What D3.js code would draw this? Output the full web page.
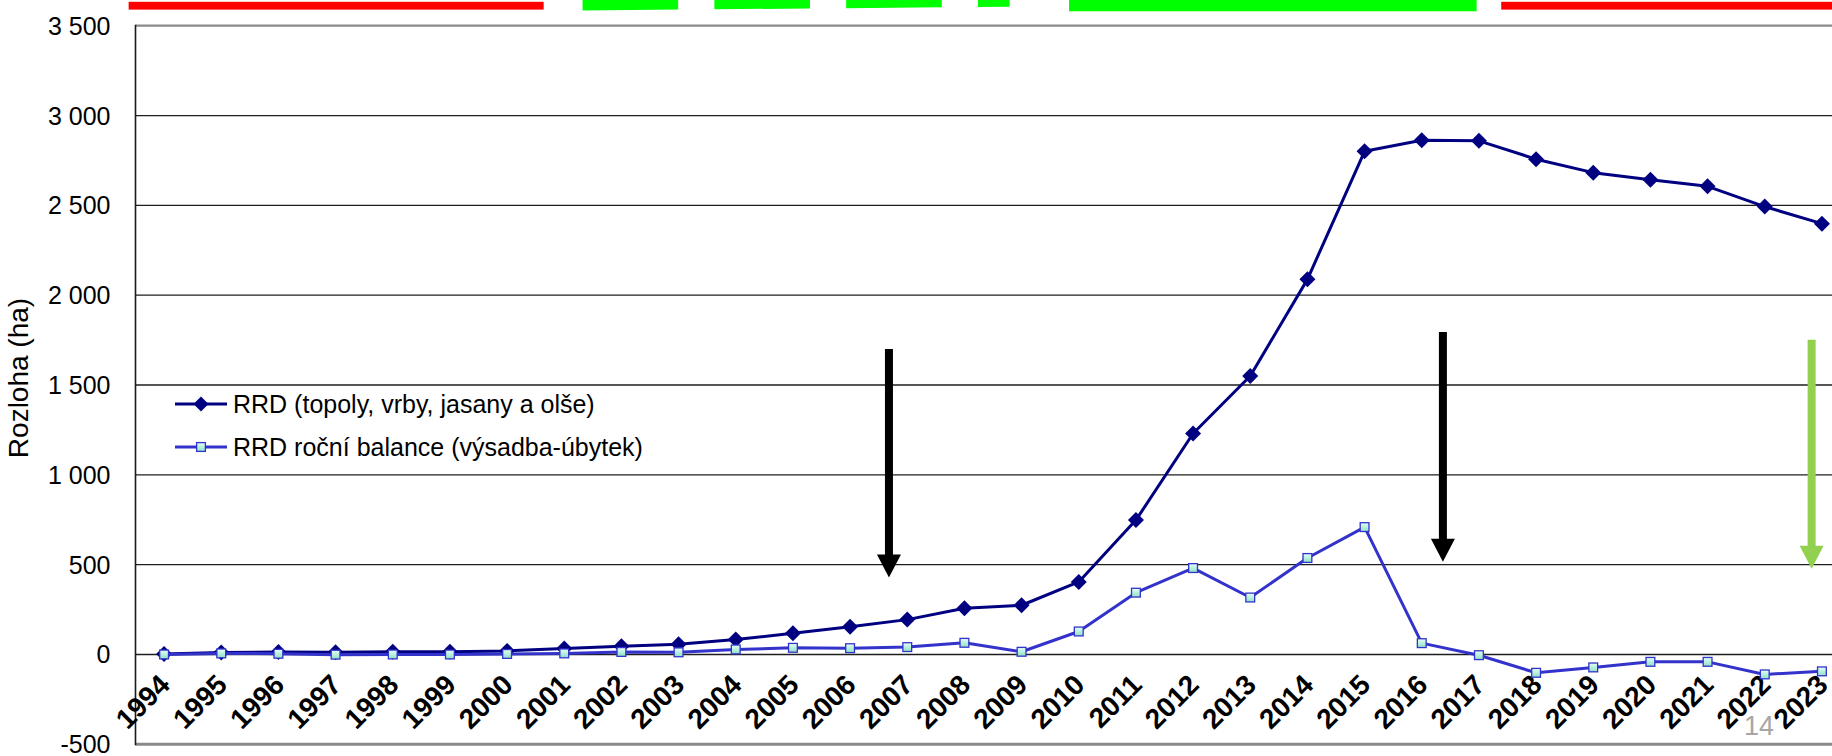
<!DOCTYPE html>
<html>
<head>
<meta charset="utf-8">
<title>RRD – rozloha</title>
<script src="https://cdn.jsdelivr.net/npm/d3@7"></script>
<style>
  html, body { margin: 0; padding: 0; background: #fff; }
  svg { display: block; }
  text { font-family: "Liberation Sans", Arial, sans-serif; }
</style>
</head>
<body>
<svg id="chart" width="1832" height="756"></svg>
<script>
// Years on the category axis
const years = ["1994","1995","1996","1997","1998","1999","2000","2001","2002","2003",
               "2004","2005","2006","2007","2008","2009","2010","2011","2012","2013",
               "2014","2015","2016","2017","2018","2019","2020","2021","2022","2023"];

// Total area of short-rotation coppice (ha)
const rrdArea = [2, 11, 14, 12, 15, 15, 20, 33, 46, 57,
                 83, 118, 154, 194, 257, 274, 404, 748, 1230, 1550,
                 2088, 2801, 2862, 2859, 2757, 2682, 2643, 2606, 2493, 2398];

// Yearly balance: planted minus removed (ha)
const rrdBalance = [0, 6, 4, -1, 0, 0, 3, 6, 14, 12,
                    28, 37, 35, 41, 65, 15, 128, 344, 481, 317,
                    537, 709, 63, -4, -102, -72, -41, -41, -111, -94];

const seriesNames = ["RRD (topoly, vrby, jasany a olše)", "RRD roční balance (výsadba-úbytek)"];

// Value axis
const yTicks = [-500, 0, 500, 1000, 1500, 2000, 2500, 3000, 3500];
const yTickLabels = ["-500", "0", "500", "1 000", "1 500", "2 000", "2 500", "3 000", "3 500"];
const yTitle = "Rozloha (ha)";

// Period bars above the plot (in fractional years)
const periodStart = [1993.38, 2001.32, 2009.83, 2017.39];
const periodEnd   = [2000.64, 2008.79, 2016.96, 2023.60];
const periodKind  = ["red", "greenDashed", "green", "red"];

// Vertical arrows (position in fractional years, from / to in ha)
const arrowYear  = [2006.68, 2016.37, 2022.82];
const arrowFrom  = [1700, 1795, 1752];
const arrowTo    = [428, 516, 477];
const arrowColor = ["#000000", "#000000", "#92d050"];

const pageNumber = "14";

// ---- layout ----
const W = 1832, H = 756;
const plot = { left: 135.5, right: 1850.5, top: 25.7, bottom: 744.3 };

const svg = d3.select("#chart");

const x = d3.scalePoint().domain(years).range([plot.left, plot.right]).padding(0.5);
const xYear = d3.scaleLinear()
  .domain([+years[0], +years[years.length - 1]])
  .range([x(years[0]), x(years[years.length - 1])]);
const y = d3.scaleLinear().domain([-500, 3500]).range([plot.bottom, plot.top]);

// gradient for the square markers
const defs = svg.append("defs");
const grad = defs.append("linearGradient").attr("id", "sqFill")
  .attr("x1", 0).attr("y1", 0).attr("x2", 0).attr("y2", 1);
grad.append("stop").attr("offset", "0%").attr("stop-color", "#e4fff6");
grad.append("stop").attr("offset", "100%").attr("stop-color", "#8fe0c4");

// ---- gridlines ----
const grid = svg.append("g");
grid.selectAll("line.grid")
  .data(yTicks.filter(v => v > -500 && v < 3500))
  .join("line")
  .attr("x1", plot.left).attr("x2", W)
  .attr("y1", d => y(d)).attr("y2", d => y(d))
  .attr("stroke", "#1e1e1e").attr("stroke-width", 1.3);

// top and bottom frame lines
grid.append("line")
  .attr("x1", plot.left).attr("x2", W)
  .attr("y1", y(3500)).attr("y2", y(3500))
  .attr("stroke", "#8a8a8a").attr("stroke-width", 2.2);
grid.append("line")
  .attr("x1", plot.left).attr("x2", W)
  .attr("y1", y(-500)).attr("y2", y(-500))
  .attr("stroke", "#8a8a8a").attr("stroke-width", 3);

// value axis line
svg.append("line")
  .attr("x1", plot.left).attr("x2", plot.left)
  .attr("y1", y(3500) - 1).attr("y2", y(-500) + 1)
  .attr("stroke", "#1a1a1a").attr("stroke-width", 1.6);

// ---- value axis labels ----
const yAxis = d3.axisLeft(y)
  .tickValues(yTicks)
  .tickFormat((d, i) => yTickLabels[i])
  .tickSize(0)
  .tickPadding(25);
const yAxisG = svg.append("g").attr("transform", `translate(${plot.left},0)`).call(yAxis);
yAxisG.select(".domain").remove();
yAxisG.selectAll("text")
  .attr("font-family", "Liberation Sans, Arial, sans-serif")
  .attr("font-size", 25)
  .attr("fill", "#000")
  .attr("dy", "0.34em");

svg.append("text")
  .attr("transform", `translate(28,378) rotate(-90)`)
  .attr("text-anchor", "middle")
  .attr("font-size", 28)
  .attr("fill", "#000")
  .text(yTitle);

// ---- category axis labels ----
const xAxis = d3.axisBottom(x).tickSize(0).tickPadding(0);
const xAxisG = svg.append("g").attr("transform", `translate(0,${y(0)})`).call(xAxis);
xAxisG.select(".domain").remove();
xAxisG.selectAll("text")
  .attr("font-family", "Liberation Sans, Arial, sans-serif")
  .attr("font-size", 28)
  .attr("font-weight", "bold")
  .attr("fill", "#000")
  .attr("text-anchor", "end")
  .attr("dy", null)
  .attr("y", 0)
  .attr("transform", "translate(7,32) rotate(-45)");

// ---- series ----
const diamond = r => `M0,${-r}L${r},0L0,${r}L${-r},0Z`;

const lineArea = d3.line().x((d, i) => x(years[i])).y(d => y(d));
svg.append("path")
  .datum(rrdArea)
  .attr("d", lineArea)
  .attr("fill", "none")
  .attr("stroke", "#000080")
  .attr("stroke-width", 3)
  .attr("stroke-linejoin", "round");
svg.append("g").selectAll("path")
  .data(rrdArea)
  .join("path")
  .attr("d", diamond(8))
  .attr("transform", (d, i) => `translate(${x(years[i])},${y(d)})`)
  .attr("fill", "#000080");

svg.append("path")
  .datum(rrdBalance)
  .attr("d", lineArea)
  .attr("fill", "none")
  .attr("stroke", "#3333cc")
  .attr("stroke-width", 3)
  .attr("stroke-linejoin", "round");
const sq = 8.8;
svg.append("g").selectAll("rect")
  .data(rrdBalance)
  .join("rect")
  .attr("x", (d, i) => x(years[i]) - sq / 2)
  .attr("y", d => y(d) - sq / 2)
  .attr("width", sq).attr("height", sq)
  .attr("fill", "url(#sqFill)")
  .attr("stroke", "#3333cc")
  .attr("stroke-width", 1.3);

// ---- legend ----
const legend = svg.append("g");
const legendRows = [404, 447];
legend.append("line").attr("x1", 175).attr("x2", 227)
  .attr("y1", legendRows[0]).attr("y2", legendRows[0])
  .attr("stroke", "#000080").attr("stroke-width", 2.8);
legend.append("path").attr("d", diamond(7.5))
  .attr("transform", `translate(201,${legendRows[0]})`).attr("fill", "#000080");
legend.append("line").attr("x1", 175).attr("x2", 227)
  .attr("y1", legendRows[1]).attr("y2", legendRows[1])
  .attr("stroke", "#3333cc").attr("stroke-width", 2.8);
legend.append("rect").attr("x", 201 - sq / 2).attr("y", legendRows[1] - sq / 2)
  .attr("width", sq).attr("height", sq)
  .attr("fill", "url(#sqFill)").attr("stroke", "#3333cc").attr("stroke-width", 1.3);
legend.selectAll("text")
  .data(seriesNames)
  .join("text")
  .attr("x", 233)
  .attr("y", (d, i) => legendRows[i])
  .attr("dy", "0.36em")
  .attr("font-size", 25)
  .attr("fill", "#000")
  .text(d => d);

// ---- period bars above the plot ----
const bars = svg.append("g");
periodKind.forEach((k, i) => {
  const x0 = xYear(periodStart[i]), x1 = xYear(periodEnd[i]);
  if (k === "red") {
    bars.append("rect")
      .attr("x", x0).attr("y", 1.8)
      .attr("width", x1 - x0).attr("height", 7.8)
      .attr("fill", "#ff0000");
  } else if (k === "green") {
    bars.append("rect")
      .attr("x", x0).attr("y", 0)
      .attr("width", x1 - x0).attr("height", 11.3)
      .attr("fill", "#00ff00");
  } else {
    bars.append("line")
      .attr("x1", x0).attr("x2", x1)
      .attr("y1", 3.4).attr("y2", -0.2)
      .attr("stroke", "#00ff00")
      .attr("stroke-width", 14)
      .attr("stroke-dasharray", "95.6 36.2");
  }
});

// ---- arrows ----
const arrows = svg.append("g");
arrowYear.forEach((yr, i) => {
  const cx = xYear(yr);
  const top = y(arrowFrom[i]);
  const tip = y(arrowTo[i]);
  const headLen = 23, headHalf = 12, shaftHalf = 4;
  const base = tip - headLen;
  const pts = [
    [cx - shaftHalf, top], [cx + shaftHalf, top],
    [cx + shaftHalf, base], [cx + headHalf, base],
    [cx, tip],
    [cx - headHalf, base], [cx - shaftHalf, base]
  ];
  arrows.append("path")
    .attr("d", "M" + pts.map(p => p.join(",")).join("L") + "Z")
    .attr("fill", arrowColor[i]);
});

// ---- page number ----
svg.append("text")
  .attr("x", 1744).attr("y", 735)
  .attr("font-family", "Liberation Serif, Times New Roman, serif")
  .attr("font-size", 27)
  .attr("fill", "#a6a6a6")
  .text(pageNumber);
</script>
</body>
</html>
